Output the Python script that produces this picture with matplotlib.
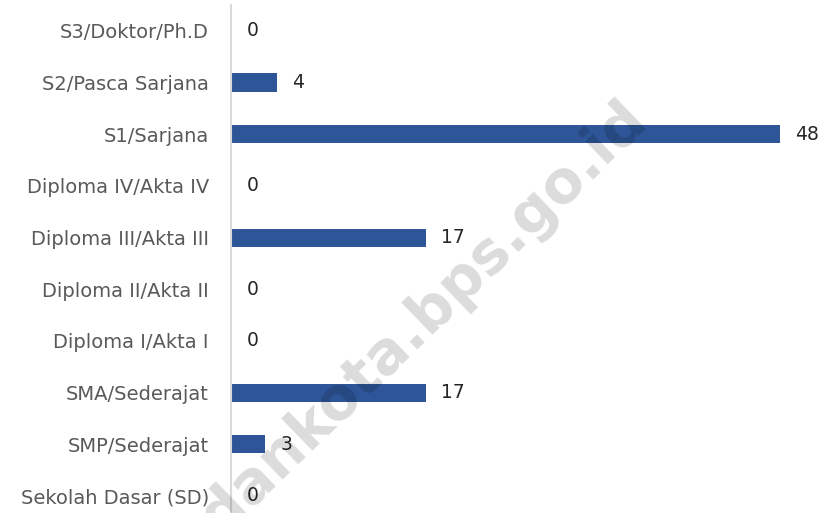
import matplotlib.pyplot as plt

# Education levels, top to bottom, and head counts
categories = ['S3/Doktor/Ph.D', 'S2/Pasca Sarjana', 'S1/Sarjana',
              'Diploma IV/Akta IV', 'Diploma III/Akta III', 'Diploma II/Akta II',
              'Diploma I/Akta I', 'SMA/Sederajat', 'SMP/Sederajat',
              'Sekolah Dasar (SD)']
values = [0, 4, 48, 0, 17, 0, 0, 17, 3, 0]

bar_color = '#2E5597'
plt.rcParams['font.family'] = ['DejaVu Sans']

fig = plt.figure(figsize=(8.26, 5.13), dpi=100)
ax = fig.add_axes([231 / 826, 0, 1 - 231 / 826, 508 / 513])

pos = list(range(len(categories)))
ax.barh(pos, values, height=0.35, color=bar_color, zorder=2)

for p, v in zip(pos, values):
    ax.annotate(str(v), xy=(v, p), xytext=(11, 0), textcoords='offset points',
                ha='left', va='center', fontsize=13.5, color='#262626')

ax.set_yticks(pos)
ax.set_yticklabels(categories, fontsize=14, color='#595959')
ax.tick_params(axis='y', length=0, pad=16)
ax.set_xticks([])
ax.set_xlim(0, 52)
ax.set_ylim(9.33, -0.5)

for s in ['top', 'right', 'bottom']:
    ax.spines[s].set_visible(False)
ax.spines['left'].set_color('#d9d9d9')
ax.spines['left'].set_linewidth(1.5)

# faint watermark over the chart
fig.text(0.468, 0.315, 'medankota.bps.go.id', rotation=44, fontsize=42,
         fontweight='bold', color='black', alpha=0.14, ha='center', va='center',
         zorder=5)

plt.savefig('out.png', dpi=100)
